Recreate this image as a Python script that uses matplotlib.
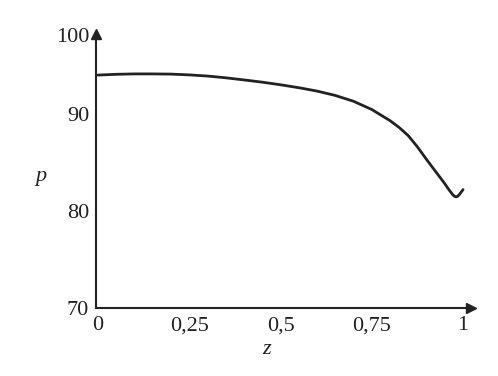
import matplotlib.pyplot as plt
import numpy as np

# curve values
z = [0, 0.05, 0.1, 0.15, 0.2, 0.25, 0.3, 0.35, 0.4, 0.45, 0.5, 0.55, 0.6, 0.65, 0.7,
     0.75, 0.8, 0.825, 0.85, 0.875, 0.9, 0.925, 0.95, 0.96, 0.97, 0.975, 0.98, 0.985,
     0.99, 0.995, 1.0]
p = [94.0, 94.08, 94.12, 94.12, 94.1, 94.02, 93.9, 93.72, 93.5, 93.27, 93.0, 92.7,
     92.35, 91.9, 91.3, 90.45, 89.3, 88.6, 87.75, 86.6, 85.3, 84.05, 82.8, 82.25,
     81.75, 81.55, 81.45, 81.5, 81.7, 81.95, 82.2]

xticks = [0, 0.25, 0.5, 0.75, 1]
xlabels = ['0', '0,25', '0,5', '0,75', '1']
yticks = [70, 80, 90, 98.1]
ylabels = ['70', '80', '90', '100']

plt.rcParams['font.family'] = ['Liberation Serif', 'DejaVu Serif']

fig = plt.figure(figsize=(4.98, 3.76), dpi=100)
ax = fig.add_axes([0.193, 0.181, 0.753, 0.729])

ax.plot(z, p, color='#222222', lw=2.0, solid_capstyle='round', solid_joinstyle='round')

ax.set_xlim(-0.005, 1.022)
ax.set_ylim(70, 98.25)

for s in ['top', 'right']:
    ax.spines[s].set_visible(False)
for s in ['left', 'bottom']:
    ax.spines[s].set_linewidth(1.5)
    ax.spines[s].set_color('#222222')

# arrow heads at the ends of the axes
ax.plot(1, 0, '>', color='#222222', ms=7, transform=ax.transAxes, clip_on=False)
ax.plot(0, 1, '^', color='#222222', ms=7, transform=ax.transAxes, clip_on=False)

ax.set_xticks(xticks)
ax.set_xticklabels(xlabels)
ax.set_yticks(yticks)
ax.set_yticklabels(ylabels)
ax.tick_params(length=0, labelsize=16, colors='#222222')
ax.tick_params(axis='x', pad=6)
ax.tick_params(axis='y', pad=5)

ax.set_xlabel('z', fontsize=16, style='italic', color='#222222', va='center')
ax.xaxis.set_label_coords(0.455, -0.153)
ax.set_ylabel('p', fontsize=16, style='italic', color='#222222', rotation=0,
              va='center', ha='center')
ax.yaxis.set_label_coords(-0.147, 0.478)

fig.savefig('out.png', dpi=100)
